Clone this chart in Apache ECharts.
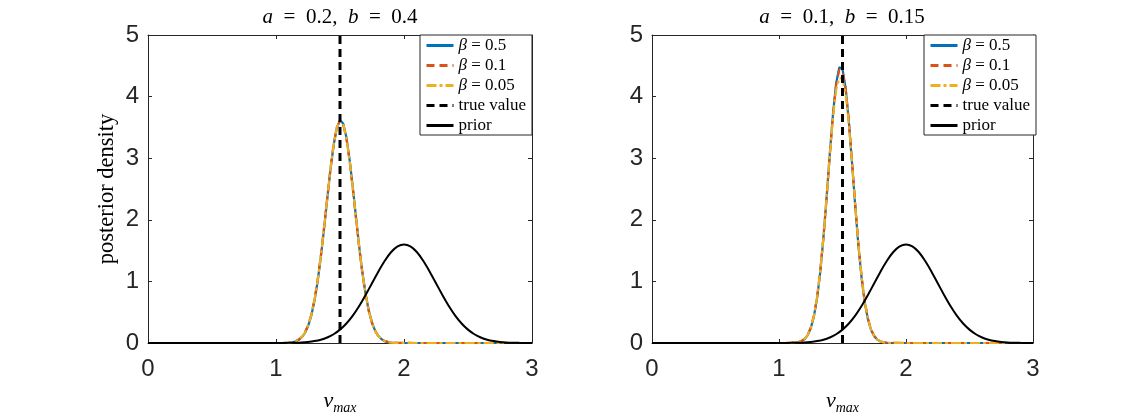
<!DOCTYPE html>
<html>
<head>
<meta charset="utf-8">
<script src="https://cdn.jsdelivr.net/npm/echarts@6/dist/echarts.min.js"></script>
<style>html,body{margin:0;padding:0;background:#fff;}#c{width:1142px;height:415px;}</style>
</head>
<body>
<div id="c"></div>
<script>
// ---------- data ----------
const xTicks = [0, 1, 2, 3];
const yTicks = [0, 1, 2, 3, 4, 5];
const panelTitles = ['{i|a}\u2002=\u20020.2,  {i|b}\u2002=\u20020.4', '{i|a}\u2002=\u20020.1,  {i|b}\u2002=\u20020.15'];
const seriesNames = ['β = 0.5', 'β = 0.1', 'β = 0.05', 'true value', 'prior'];

// left panel: a = 0.2, b = 0.4
const postXLeft = [1.05,1.10,1.125,1.15,1.175,1.20,1.225,1.25,1.275,1.30,1.325,1.35,1.375,1.40,1.425,1.45,1.475,1.50,1.525,1.55,1.575,1.60,1.625,1.65,1.675,1.70,1.725,1.75,1.775,1.80,1.825,1.85,1.875,1.90,1.925,1.95,2.10,2.78];
const leftBeta05  = [0,0.005,0.011,0.024,0.047,0.089,0.159,0.271,0.439,0.678,0.995,1.389,1.846,2.333,2.805,3.209,3.492,3.616,3.563,3.339,2.978,2.526,2.039,1.566,1.144,0.795,0.526,0.331,0.198,0.113,0.061,0.031,0.015,0.007,0.003,0.001,0,0];
const leftBeta01  = [0,0.006,0.013,0.027,0.052,0.095,0.170,0.285,0.455,0.700,1.020,1.410,1.870,2.350,2.820,3.220,3.500,3.610,3.550,3.320,2.960,2.505,2.020,1.550,1.130,0.785,0.518,0.325,0.195,0.110,0.060,0.030,0.015,0.007,0.003,0.001,0,0];
const leftBeta005 = [0,0.005,0.012,0.025,0.049,0.092,0.165,0.278,0.447,0.690,1.005,1.400,1.858,2.342,2.812,3.215,3.496,3.612,3.558,3.330,2.970,2.515,2.030,1.558,1.138,0.790,0.522,0.328,0.196,0.112,0.060,0.030,0.015,0.007,0.003,0.001,0,0];

// right panel: a = 0.1, b = 0.15
const postXRight = [1.05,1.15,1.175,1.20,1.225,1.25,1.275,1.30,1.325,1.35,1.375,1.40,1.425,1.45,1.475,1.50,1.525,1.55,1.575,1.60,1.625,1.65,1.675,1.70,1.725,1.75,1.775,1.80,1.825,1.85,2.00,2.80];
const rightBeta05  = [0,0.012,0.027,0.060,0.124,0.239,0.432,0.730,1.155,1.709,2.366,3.065,3.717,4.216,4.476,4.446,4.133,3.595,2.926,2.228,1.588,1.059,0.661,0.386,0.211,0.108,0.052,0.023,0.010,0.004,0,0];
const rightBeta01  = [0,0.013,0.030,0.065,0.130,0.248,0.445,0.745,1.170,1.720,2.370,3.060,3.700,4.190,4.440,4.420,4.120,3.600,2.950,2.260,1.625,1.090,0.685,0.400,0.220,0.113,0.055,0.025,0.011,0.004,0,0];
const rightBeta005 = [0,0.013,0.029,0.063,0.128,0.245,0.440,0.740,1.165,1.715,2.365,3.050,3.660,4.110,4.300,4.290,4.050,3.560,2.930,2.245,1.610,1.078,0.675,0.394,0.216,0.110,0.054,0.024,0.010,0.004,0,0];

// true value and prior (same for both panels)
const trueValue = 1.5;
const trueValueY = [0, 5];
const priorX = [0,0.5,0.9,1.00,1.05,1.10,1.15,1.20,1.25,1.30,1.35,1.40,1.45,1.50,1.55,1.60,1.65,1.70,1.75,1.80,1.85,1.90,1.95,2.00,2.05,2.10,2.15,2.20,2.25,2.30,2.35,2.40,2.45,2.50,2.55,2.60,2.65,2.70,2.75,2.80,2.85,2.90,2.95,3.00];
const priorY = [0,0,0,0.0005,0.001,0.0025,0.005,0.0095,0.018,0.032,0.054,0.090,0.142,0.217,0.317,0.445,0.600,0.779,0.970,1.162,1.336,1.477,1.568,1.600,1.568,1.477,1.336,1.162,0.970,0.779,0.600,0.445,0.317,0.217,0.142,0.090,0.054,0.032,0.018,0.0095,0.005,0.0025,0.001,0.0005];

// ---------- styling ----------
const AX = '#262626';
const SERIF = '"Liberation Serif","DejaVu Serif",serif';
const SANS = '"Liberation Sans",Arial,sans-serif';
const colors = ['#0072BD', '#D95319', '#EDB120'];
const dashes = ['solid', [8, 5], [10, 3, 3, 3]];

const grids = [
  {left: 148, top: 35, width: 384, height: 308, outerBoundsMode: 'none', containLabel: false},
  {left: 652, top: 35, width: 381, height: 308, outerBoundsMode: 'none', containLabel: false}
];
const legendLeft = [420, 924];
const centers = [340, 842];

const pairs = (xs, ys) => xs.map((x, i) => [x, ys[i]]);

const xAxes = [], yAxes = [], series = [], legends = [], graphics = [];
const panels = [
  {px: postXLeft, ys: [leftBeta05, leftBeta01, leftBeta005]},
  {px: postXRight, ys: [rightBeta05, rightBeta01, rightBeta005]}
];

panels.forEach((p, gi) => {
  const common = {min: xTicks[0], max: xTicks[xTicks.length - 1], interval: 1, gridIndex: gi, type: 'value',
    splitLine: {show: false}, axisLine: {show: true, onZero: false, lineStyle: {color: AX, width: 1}},
    axisTick: {show: true, inside: true, length: 4, lineStyle: {color: AX, width: 1}}};
  xAxes.push(Object.assign({}, common, {
    position: 'bottom',
    axisLabel: {show: true, margin: 14, fontSize: 24, color: AX, fontFamily: SANS},
    name: '{v|v}{s|max}', nameLocation: 'middle', nameGap: 44,
    nameTextStyle: {rich: {
      v: {fontFamily: SERIF, fontStyle: 'italic', fontSize: 22, color: '#000'},
      s: {fontFamily: SERIF, fontStyle: 'italic', fontSize: 14, color: '#000', padding: [14, 0, 0, 0]}
    }}
  }));
  xAxes.push(Object.assign({}, common, {position: 'top', axisLabel: {show: false}}));
  const ycommon = Object.assign({}, common, {min: yTicks[0], max: yTicks[yTicks.length - 1]});
  yAxes.push(Object.assign({}, ycommon, {
    position: 'left',
    axisLabel: {show: true, margin: 9, fontSize: 24, color: AX, fontFamily: SANS},
    name: gi === 0 ? 'posterior density' : '', nameLocation: 'middle', nameGap: 29,
    nameTextStyle: {fontFamily: SERIF, fontSize: 22.5, color: '#000'}
  }));
  yAxes.push(Object.assign({}, ycommon, {position: 'right', axisLabel: {show: false}}));

  const xi = gi * 2, yi = gi * 2;
  p.ys.forEach((ys, k) => {
    series.push({
      type: 'line', name: seriesNames[k], xAxisIndex: xi, yAxisIndex: yi,
      data: pairs(p.px, ys), symbol: 'none', showSymbol: false, animation: false,
      lineStyle: {color: colors[k], width: 2.2, type: dashes[k]}, itemStyle: {color: colors[k]}, z: 2 + k * 0.1
    });
  });
  series.push({
    type: 'line', name: seriesNames[3], xAxisIndex: xi, yAxisIndex: yi,
    data: pairs([trueValue, trueValue], trueValueY), symbol: 'none', showSymbol: false, animation: false,
    lineStyle: {color: '#000', width: 3, type: [8, 5]}, itemStyle: {color: '#000'}, z: 3
  });
  series.push({
    type: 'line', name: seriesNames[4], xAxisIndex: xi, yAxisIndex: yi,
    data: pairs(priorX, priorY), symbol: 'none', showSymbol: false, animation: false, smooth: 0.2,
    lineStyle: {color: '#000', width: 2, type: 'solid'}, itemStyle: {color: '#000'}, z: 3.1
  });

  legends.push({
    orient: 'vertical', left: legendLeft[gi], top: 35,
    data: seriesNames.map(n => ({name: n})),
    backgroundColor: '#fff', borderColor: AX, borderWidth: 1, borderRadius: 0,
    padding: [2, 6, 1, 5], itemWidth: 27, itemHeight: 14, itemGap: 3,
    selectedMode: false, inactiveColor: '#000',
    itemStyle: {opacity: 0},
    lineStyle: {width: 3},
    textStyle: {fontFamily: SERIF, fontSize: 17, color: '#000',
      rich: {g: {fontFamily: SERIF, fontStyle: 'italic', fontSize: 17, color: '#000'}}},
    formatter: n => n.startsWith('β') ? '{g|β}' + n.slice(1) : n
  });

  graphics.push({
    type: 'text', x: centers[gi], y: 17, z: 10,
    style: {text: panelTitles[gi], textAlign: 'center', textVerticalAlign: 'middle',
      fontFamily: SERIF, fontSize: 21, fill: '#000',
      rich: {i: {fontFamily: SERIF, fontStyle: 'italic', fontSize: 21, fill: '#000'}}}
  });
});

const chart = echarts.init(document.getElementById('c'), null, {renderer: 'canvas'});
chart.setOption({
  backgroundColor: '#fff',
  animation: false,
  grid: grids,
  xAxis: xAxes,
  yAxis: yAxes,
  legend: legends,
  series: series,
  graphic: graphics
});
</script>
</body>
</html>
